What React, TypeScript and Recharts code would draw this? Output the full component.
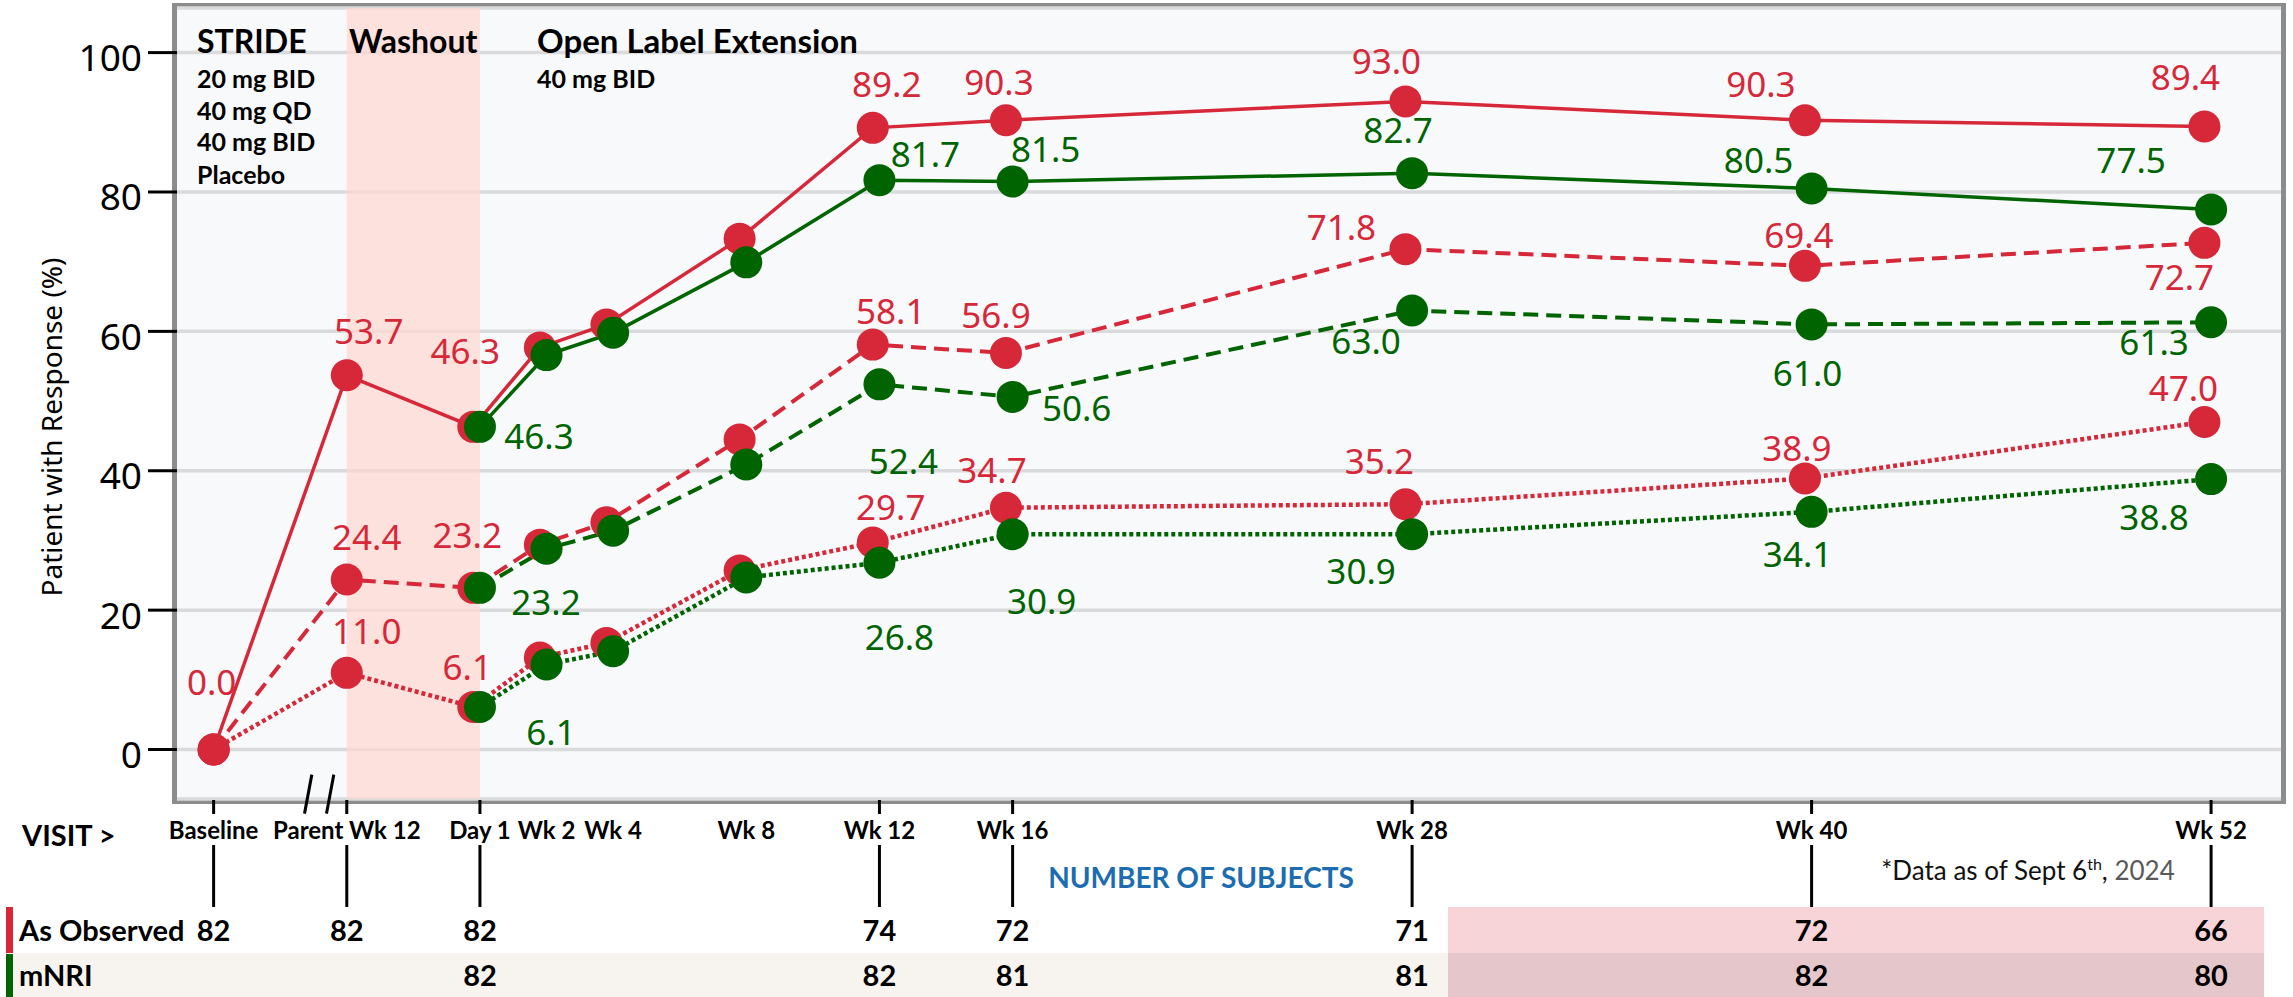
import React from "react";
import {
  LineChart,
  Line,
  XAxis,
  YAxis,
  CartesianGrid,
  ReferenceArea,
  ReferenceLine,
} from "recharts";

// visits, placed on a week axis (Day 1 = week 0)
const visitWeeks = [-8, -4, 0, 2, 4, 8, 12, 16, 28, 40, 52];
const visitLabels = [
  "Baseline",
  "Parent Wk 12",
  "Day 1",
  "Wk 2",
  "Wk 4",
  "Wk 8",
  "Wk 12",
  "Wk 16",
  "Wk 28",
  "Wk 40",
  "Wk 52",
];
const yTicks = [0, 20, 40, 60, 80, 100];

// As Observed (red)
const observedSolid = [0.0, 53.7, 46.3, 57.7, 61.0, 73.3, 89.2, 90.3, 93.0, 90.3, 89.4];
const observedDashed = [0.0, 24.4, 23.2, 29.4, 32.6, 44.5, 58.1, 56.9, 71.8, 69.4, 72.7];
const observedDotted = [0.0, 11.0, 6.1, 13.2, 15.3, 25.7, 29.7, 34.7, 35.2, 38.9, 47.0];

// mNRI (green)
const mnriSolid = [null, null, 46.3, 56.6, 59.8, 69.9, 81.7, 81.5, 82.7, 80.5, 77.5];
const mnriDashed = [null, null, 23.2, 28.8, 31.4, 40.9, 52.4, 50.6, 63.0, 61.0, 61.3];
const mnriDotted = [null, null, 6.1, 12.2, 14.1, 24.7, 26.8, 30.9, 30.9, 34.1, 38.8];

// number of subjects
const observedN = [82, 82, 82, null, null, null, 74, 72, 71, 72, 66];
const mnriN = [null, null, 82, null, null, null, 82, 81, 81, 82, 80];

// where each value label sits relative to its dot (px), null = no label
type Off = [number, number] | null;
const offObservedSolid: Off[] = [[-2, -68], [22, -45], [-8, -76], null, null, null, [14, -44], [-7, -39], [-19, -41], [-44, -37], [-19, -50]];
const offObservedDashed: Off[] = [null, [20, -43], [-6, -53], null, null, null, [18, -34], [-10, -38], [-64, -23], [-6, -31], [-25, 34]];
const offObservedDotted: Off[] = [null, [20, -42], [-6, -41], null, null, null, [18, -36], [-14, -38], [-26, -44], [-8, -31], [-21, -34]];
const offMnriSolid: Off[] = [null, null, [59, 9], null, null, null, [46, -27], [33, -33], [-14, -44], [-53, -29], [-80, -50]];
const offMnriDashed: Off[] = [null, null, [66, 14], null, null, null, [24, 76], [64, 11], [-46, 30], [-4, 48], [-57, 19]];
const offMnriDotted: Off[] = [null, null, [71, 24], null, null, null, [20, 74], [29, 66], [-51, 36], [-14, 42], [-57, 37]];

const RED = "#d62839";
const GREEN = "#006400";
const RED_DODGE = -0.2;

const W = 2293;
const H = 997;
const BOLD = "Lato, 'Noto Sans', sans-serif";
const NUM = "'Noto Sans', 'Open Sans', sans-serif";

function points(values: (number | null)[], dodge: number) {
  return visitWeeks.map((w, i) => ({ x: w >= 0 ? w + dodge : w, y: values[i] }));
}

const series = [
  { key: "aoSolid", values: observedSolid, offs: offObservedSolid, color: RED, dash: undefined, width: 3.5, dodge: RED_DODGE },
  { key: "aoDashed", values: observedDashed, offs: offObservedDashed, color: RED, dash: "15 8", width: 4, dodge: RED_DODGE },
  { key: "aoDotted", values: observedDotted, offs: offObservedDotted, color: RED, dash: "4 3", width: 4.5, dodge: RED_DODGE },
  { key: "nriSolid", values: mnriSolid, offs: offMnriSolid, color: GREEN, dash: undefined, width: 3.5, dodge: 0 },
  { key: "nriDashed", values: mnriDashed, offs: offMnriDashed, color: GREEN, dash: "15 8", width: 4, dodge: 0 },
  { key: "nriDotted", values: mnriDotted, offs: offMnriDotted, color: GREEN, dash: "4 3", width: 4.5, dodge: 0 },
];

function valueLabel(p: any, offs: Off[], color: string) {
  const { x, y, value, index } = p;
  if (value == null || x == null || y == null) return null;
  const o = offs[index];
  if (!o) return null;
  return (
    <text
      key={`l-${index}`}
      x={x + o[0]}
      y={y + o[1]}
      textAnchor="middle"
      dominantBaseline="central"
      fontFamily={NUM}
      fontSize={35}
      fill={color}
    >
      {Number(value).toFixed(1)}
    </text>
  );
}

function VisitTick(props: any) {
  const { x, y, payload } = props;
  const i = visitWeeks.indexOf(payload.value);
  if (i < 0) return null;
  const counted = observedN[i] != null;
  return (
    <g>
      {counted && <line x1={x} x2={x} y1={y + 1} y2={y + 15} stroke="#000" strokeWidth={3} />}
      <text x={x} y={y + 40} textAnchor="middle" fontFamily={BOLD} fontWeight={700} fontSize={24} fill="#000">
        {visitLabels[i]}
      </text>
      {counted && <line x1={x} x2={x} y1={y + 46} y2={y + 108} stroke="#000" strokeWidth={3} />}
      {observedN[i] != null && (
        <text x={x} y={y + 142} textAnchor="middle" fontFamily={BOLD} fontWeight={700} fontSize={29} fill="#000">
          {observedN[i]}
        </text>
      )}
      {mnriN[i] != null && (
        <text x={x} y={y + 187} textAnchor="middle" fontFamily={BOLD} fontWeight={700} fontSize={29} fill="#000">
          {mnriN[i]}
        </text>
      )}
    </g>
  );
}

function YTick(props: any) {
  const { x, y, payload } = props;
  return (
    <text x={x} y={y + 4} textAnchor="end" dominantBaseline="central" fontFamily={NUM} fontSize={37} fill="#000">
      {payload.value}
    </text>
  );
}

export default function App() {
  return (
    <div style={{ position: "absolute", left: 0, top: 0, width: W, height: H, background: "#fff", overflow: "hidden" }}>
      {/* frame and table backgrounds, under the chart */}
      <svg width={W} height={H} style={{ position: "absolute", left: 0, top: 0 }}>
        <rect x={174.5} y={5.5} width={2109} height={796} fill="none" stroke="#8c8c8c" strokeWidth={5} />
        <rect x={1448} y={907} width={816} height={46} fill="#f7d4d7" />
        <rect x={14} y={953} width={1434} height={44} fill="#f7f4ef" />
        <rect x={1448} y={953} width={816} height={44} fill="#e5c6cb" />
        <rect x={6} y={907} width={7} height={46} fill={RED} />
        <rect x={6} y={954} width={7} height={43} fill={GREEN} />
      </svg>

      <div style={{ position: "absolute", left: 0, top: 0 }}>
        <LineChart width={W} height={H} margin={{ top: 8, right: 12, bottom: 0, left: 0 }}>
          <CartesianGrid horizontal vertical={false} fill="#f8f9fb" fillOpacity={1} stroke="#d9dadc" strokeWidth={3.5} />
          <ReferenceArea x1={-4} x2={0} fill="#ffd7cf" fillOpacity={0.71} stroke="none" />
          <XAxis
            type="number"
            dataKey="x"
            domain={[-9.1, 54.1]}
            ticks={visitWeeks}
            interval={0}
            allowDataOverflow
            height={198}
            tickSize={0}
            tickMargin={0}
            tickLine={false}
            axisLine={false}
            tick={<VisitTick />}
          />
          <YAxis
            type="number"
            domain={[-7.1, 106.4]}
            ticks={yTicks}
            allowDataOverflow
            width={177}
            tickSize={29}
            tickMargin={6}
            axisLine={false}
            tickLine={{ stroke: "#000", strokeWidth: 3 }}
            tick={<YTick />}
          />
          <ReferenceLine
            segment={[{ x: -5.05, y: -3.6 }, { x: -5.27, y: -9.2 }]}
            ifOverflow="visible"
            stroke="#000"
            strokeWidth={3}
          />
          <ReferenceLine
            segment={[{ x: -4.39, y: -3.6 }, { x: -4.61, y: -9.2 }]}
            ifOverflow="visible"
            stroke="#000"
            strokeWidth={3}
          />
          {series.map((s) => (
            <Line
              key={s.key}
              data={points(s.values, s.dodge)}
              dataKey="y"
              type="linear"
              stroke={s.color}
              strokeWidth={s.width}
              strokeDasharray={s.dash}
              dot={{ r: 16, fill: s.color, stroke: s.color, strokeWidth: 0 }}
              activeDot={false}
              isAnimationActive={false}
              label={(p: any) => valueLabel(p, s.offs, s.color)}
            />
          ))}
        </LineChart>
      </div>

      {/* texts over the chart */}
      <svg width={W} height={H} style={{ position: "absolute", left: 0, top: 0, pointerEvents: "none" }}>
        <g fontFamily={BOLD} fontWeight={700} fill="#000">
          <text x={197} y={53} fontSize={32}>STRIDE</text>
          <text x={197} y={88} fontSize={25}>20 mg BID</text>
          <text x={197} y={120} fontSize={25}>40 mg QD</text>
          <text x={197} y={151} fontSize={25}>40 mg BID</text>
          <text x={197} y={184} fontSize={25}>Placebo</text>
          <text x={349} y={53} fontSize={32}>Washout</text>
          <text x={537} y={53} fontSize={33}>Open Label Extension</text>
          <text x={537} y={88} fontSize={25}>40 mg BID</text>
          <text x={22} y={846} fontSize={29}>VISIT &gt;</text>
          <text x={19} y={941} fontSize={29}>As Observed</text>
          <text x={19} y={986} fontSize={29}>mNRI</text>
          <text x={1201} y={888} fontSize={28} textAnchor="middle" fill="#1b6cb0">NUMBER OF SUBJECTS</text>
        </g>
        <text x={2028} y={880} fontFamily={BOLD} fontSize={26} textAnchor="middle" fill="#111">
          *Data as of Sept 6<tspan fontSize={16} dy={-10}>th</tspan>
          <tspan dy={10}>, </tspan>
          <tspan fill="#595959">2024</tspan>
        </text>
        <text
          transform="translate(62,427) rotate(-90)"
          textAnchor="middle"
          fontFamily={NUM}
          fontSize={28}
          fill="#000"
        >
          Patient with Response (%)
        </text>
      </svg>
    </div>
  );
}
